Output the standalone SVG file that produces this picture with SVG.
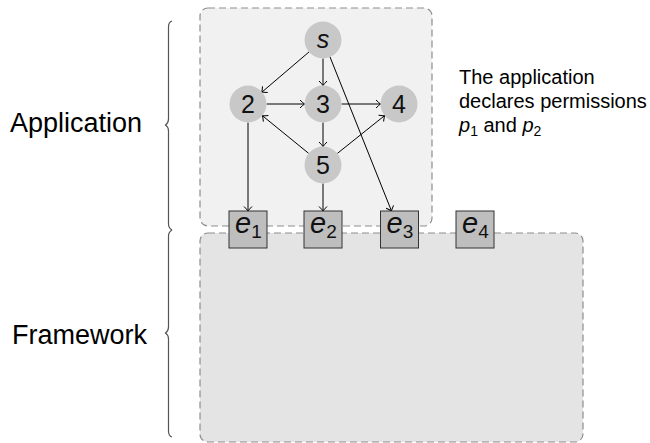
<svg xmlns="http://www.w3.org/2000/svg" width="650" height="443" viewBox="0 0 650 443">
  <defs>
    <marker id="arr" viewBox="-6 -5 8 10" markerWidth="8" markerHeight="10" refX="0" refY="0" orient="auto" markerUnits="userSpaceOnUse">
      <path d="M -4.5,-4 Q -1.5,-1 0,0 Q -1.5,1 -4.5,4" fill="none" stroke="#000" stroke-width="1"/>
    </marker>
  </defs>
  <style>
    .region { stroke: #8e8e8e; stroke-width: 1.2; stroke-dasharray: 7 4; }
    .app { fill: #f1f1f1; }
    .fw { fill: #e4e4e4; }
    .brace { fill: none; stroke: #555; stroke-width: 1.2; }
    .node circle { fill: #c8c8c8; }
    .ent rect { fill: #bebebe; stroke: #333; stroke-width: 1; }
    .lbl { font-family: "Liberation Sans", Arial, sans-serif; fill: #000; }
    .nl { font-family: "Liberation Sans", Arial, sans-serif; font-size: 25px; text-anchor: middle; fill: #111; }
    .el { font-family: "Liberation Sans", Arial, sans-serif; font-size: 29px; font-style: italic; fill: #111; }
    .sub { font-style: normal; font-size: 19px; }
    #edges line { stroke: #000; stroke-width: 1; marker-end: url(#arr); }
  </style>

  <!-- layer regions -->
  <g id="application-region">
    <rect class="region app" x="200" y="8" width="232" height="218" rx="8"/>
  </g>
  <g id="framework-region">
    <rect class="region fw" x="200" y="233" width="383" height="209" rx="8"/>
  </g>

  <!-- side braces and labels -->
  <g id="brace-application">
    <path class="brace" d="M 172,21 Q 168.5,22 168.5,27 L 168.5,119 Q 168.5,123 165.5,125 Q 168.5,127 168.5,131 L 168.5,224 Q 168.5,228 172,230"/>
    <text class="lbl" x="10" y="132" font-size="27">Application</text>
  </g>
  <g id="brace-framework">
    <path class="brace" d="M 172,230 Q 168.5,232 168.5,236 L 168.5,327 Q 168.5,331 165.5,333 Q 168.5,335 168.5,339 L 168.5,431 Q 168.5,436 172,437"/>
    <text class="lbl" x="12" y="344" font-size="27">Framework</text>
  </g>

  <!-- connectors -->
  <g id="edges">
    <line x1="309.3" y1="51.7" x2="261.7" y2="92.3"/>
    <line x1="323" y1="58.5" x2="323" y2="85.5"/>
    <line x1="329.9" y1="56.7" x2="391.5" y2="211"/>
    <line x1="266.5" y1="104" x2="304.5" y2="104"/>
    <line x1="341.5" y1="104" x2="380.5" y2="104"/>
    <line x1="323" y1="122.5" x2="323" y2="146.5"/>
    <line x1="308.6" y1="153.3" x2="262.4" y2="115.7"/>
    <line x1="337.4" y1="153.4" x2="384.6" y2="115.6"/>
    <line x1="248" y1="122.5" x2="248" y2="211"/>
    <line x1="323" y1="183.5" x2="323" y2="211"/>
  </g>

  <!-- component nodes -->
  <g id="node-s" class="node">
    <circle cx="323" cy="40" r="18.5"/>
    <text class="nl" x="323" y="48" font-style="italic">s</text>
  </g>
  <g id="node-2" class="node">
    <circle cx="248" cy="104" r="18.5"/>
    <text class="nl" x="248" y="113">2</text>
  </g>
  <g id="node-3" class="node">
    <circle cx="323" cy="104" r="18.5"/>
    <text class="nl" x="323" y="113">3</text>
  </g>
  <g id="node-4" class="node">
    <circle cx="399" cy="104" r="18.5"/>
    <text class="nl" x="399" y="113">4</text>
  </g>
  <g id="node-5" class="node">
    <circle cx="323" cy="165" r="18.5"/>
    <text class="nl" x="323" y="174">5</text>
  </g>

  <!-- entry points -->
  <g id="entry-e1" class="ent">
    <rect x="229" y="211" width="38" height="37"/>
    <text class="el" x="235" y="233">e<tspan class="sub" dy="5">1</tspan></text>
  </g>
  <g id="entry-e2" class="ent">
    <rect x="304" y="211" width="38" height="37"/>
    <text class="el" x="310" y="233">e<tspan class="sub" dy="5">2</tspan></text>
  </g>
  <g id="entry-e3" class="ent">
    <rect x="380.5" y="211" width="38" height="37"/>
    <text class="el" x="386.5" y="233">e<tspan class="sub" dy="5">3</tspan></text>
  </g>
  <g id="entry-e4" class="ent">
    <rect x="456" y="211" width="38" height="37"/>
    <text class="el" x="462" y="233">e<tspan class="sub" dy="5">4</tspan></text>
  </g>

  <!-- annotation -->
  <g id="note">
    <text class="lbl" font-size="20">
      <tspan x="459" y="84">The application</tspan>
      <tspan x="459" y="108">declares permissions</tspan>
      <tspan x="459" y="132"><tspan font-style="italic">p</tspan><tspan font-size="14" dy="4">1</tspan><tspan dy="-4"> and </tspan><tspan font-style="italic">p</tspan><tspan font-size="14" dy="4">2</tspan></tspan>
    </text>
  </g>
</svg>
